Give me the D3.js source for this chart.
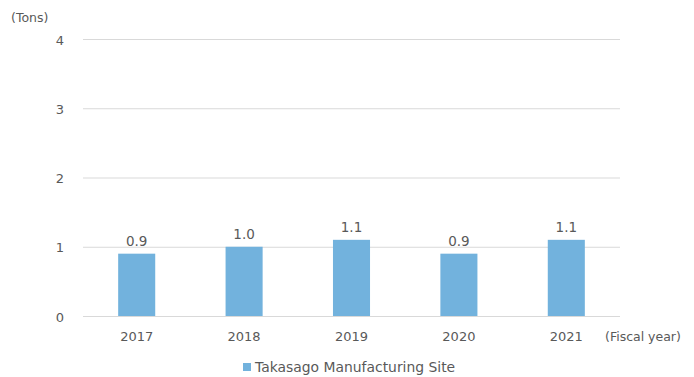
<!DOCTYPE html>
<html>
<head>
<meta charset="utf-8">
<script src="https://cdn.jsdelivr.net/npm/d3@7"></script>
<style>
  html, body { margin: 0; padding: 0; background: #fff; }
  svg text { font-family: "DejaVu Sans", Verdana, sans-serif; fill: #595959; }
</style>
</head>
<body>
<svg id="chart" width="694" height="377"></svg>
<script>
const years = ["2017", "2018", "2019", "2020", "2021"];
const values = [0.9, 1.0, 1.1, 0.9, 1.1];
const yTicks = [0, 1, 2, 3, 4];
const seriesName = "Takasago Manufacturing Site";

const svg = d3.select("#chart");
const plotLeft = 83, plotRight = 620, plotTop = 39, plotBottom = 316;
const barColor = "#72B2DD";

const x = d3.scaleBand().domain(years).range([plotLeft, plotRight]).paddingInner(0.655).paddingOuter(0.3275);
const y = d3.scaleLinear().domain([0, 4]).range([plotBottom, plotTop]);

// horizontal gridlines
svg.append("g").selectAll("line").data(yTicks).join("line")
  .attr("x1", plotLeft).attr("x2", plotRight)
  .attr("y1", d => y(d) + 0.5).attr("y2", d => y(d) + 0.5)
  .attr("stroke", "#d9d9d9").attr("stroke-width", 1);

// y-axis tick labels
svg.append("g").selectAll("text").data(yTicks).join("text")
  .attr("x", 64).attr("y", d => y(d) + 1).attr("dy", "0.35em")
  .attr("text-anchor", "end").attr("font-size", 13)
  .text(d => d);

svg.append("text").attr("x", 11).attr("y", 22).attr("font-size", 12.5).text("(Tons)");

// bars
svg.append("g").selectAll("rect").data(years).join("rect")
  .attr("x", d => x(d)).attr("width", x.bandwidth())
  .attr("y", (d, i) => y(values[i])).attr("height", (d, i) => y(0) - y(values[i]))
  .attr("fill", barColor);

// value labels
svg.append("g").selectAll("text").data(years).join("text")
  .attr("x", d => x(d) + x.bandwidth() / 2)
  .attr("y", (d, i) => y(values[i]) - 8)
  .attr("text-anchor", "middle").attr("font-size", 13.5)
  .text((d, i) => values[i].toFixed(1));

// x-axis labels
svg.append("g").selectAll("text").data(years).join("text")
  .attr("x", d => x(d) + x.bandwidth() / 2).attr("y", 341)
  .attr("text-anchor", "middle").attr("font-size", 13)
  .text(d => d);

svg.append("text").attr("x", 605).attr("y", 341).attr("font-size", 12.5).text("(Fiscal year)");

// legend
svg.append("rect").attr("x", 243).attr("y", 363).attr("width", 8).attr("height", 8).attr("fill", barColor);
svg.append("text").attr("x", 255).attr("y", 372).attr("font-size", 13.9).text(seriesName);
</script>
</body>
</html>
